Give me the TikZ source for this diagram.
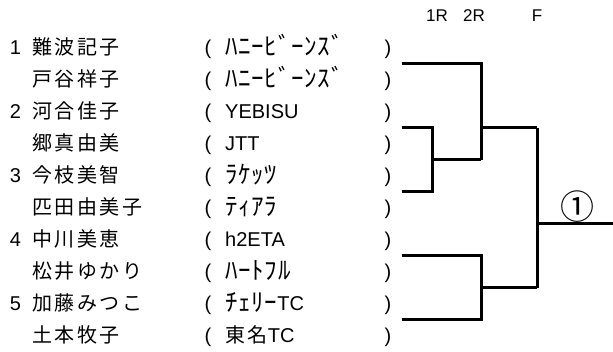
\documentclass[tikz,border=0pt]{standalone}
\usepackage{fontspec}
\setmainfont{Liberation Sans}
\newfontfamily\jp[LetterSpace=13]{Noto Sans CJK JP}
\newfontfamily\hwraw[LetterSpace=3]{Noto Sans CJK JP}
\newcommand{\hw}{\hwraw\fontsize{25}{27}\selectfont}
\newfontfamily\jpc{Noto Sans CJK JP}
\begin{document}
\begin{tikzpicture}[x=1pt,y=-1pt,
  lbl/.style={inner sep=0pt, font=\fontsize{20}{22}\selectfont},
  nm/.style={lbl, anchor=base west},
  num/.style={lbl, anchor=base},
  par/.style={lbl, anchor=base},
  hdr/.style={inner sep=0pt, anchor=base, font=\fontsize{17}{19}\selectfont},
  br/.style={line width=3pt, line join=miter, line cap=butt}]
\useasboundingbox (0,0) rectangle (613,352);
% header
\node[hdr] (h1) at (437,22) {1R};
\node[hdr] (h2) at (474,22) {2R};
\node[hdr] (h3) at (537,22) {F};
% seeds
\node[num] (d1) at (15.5,55) {1};
\node[num] (d2) at (15.5,119) {2};
\node[num] (d3) at (15.5,183) {3};
\node[num] (d4) at (15.5,247) {4};
\node[num] (d5) at (15.5,311) {5};
% names
\node[nm] (n1) at (32,55) {\jp 難波記子};
\node[nm] (n2) at (32,87) {\jp 戸谷祥子};
\node[nm] (n3) at (32,119) {\jp 河合佳子};
\node[nm] (n4) at (32,151) {\jp 郷真由美};
\node[nm] (n5) at (32,183) {\jp 今枝美智};
\node[nm] (n6) at (32,215) {\jp 匹田由美子};
\node[nm] (n7) at (32,247) {\jp 中川美恵};
\node[nm] (n8) at (32,279) {\jp 松井ゆかり};
\node[nm] (n9) at (32,311) {\jp 加藤みつこ};
\node[nm] (n10) at (32,343) {\jp 土本牧子};
% teams
\node[nm] (t1) at (225,56) {\hw ﾊﾆｰﾋﾞｰﾝｽﾞ};
\node[nm] (t2) at (225,88) {\hw ﾊﾆｰﾋﾞｰﾝｽﾞ};
\node[nm] (t3) at (225,119) {YEBISU};
\node[nm] (t4) at (225,151) {JTT};
\node[nm] (t5) at (225,184) {\hw ﾗｹｯﾂ};
\node[nm] (t6) at (225,216) {\hw ﾃｨｱﾗ};
\node[nm] (t7) at (225,247) {h2ETA};
\node[nm] (t8) at (225,280) {\hw ﾊｰﾄﾌﾙ};
\node[nm] (t9) at (225,311) {{\hw\raisebox{-1pt}{ﾁｪﾘｰ}}TC};
\node[nm] (t10) at (225,343) {{\jp 東名}TC};
% parentheses
\foreach \k in {1,...,10}{
  \node[par] (lp\k) at (208,{55+32*(\k-1)}) {(};
  \node[par] (rp\k) at (388,{55+32*(\k-1)}) {)};
}
% bracket coordinates
\coordinate (e1) at (402,64);
\coordinate (e2) at (402,128);
\coordinate (e3) at (402,192);
\coordinate (e4) at (402,256);
\coordinate (e5) at (402,320);
\coordinate (m1) at (432,160);
\coordinate (m2) at (481,128);
\coordinate (m3) at (481,288);
\coordinate (fin) at (537,224);
\coordinate (out) at (613,224);
% 1R
\draw[br] (e2) -| (m1) |- (e3);
\draw[br] (m1) -- (481,160);
% 2R top
\draw[br] (e1) -| (481,160);
\draw[br] (m2) -- (537,128);
% 2R bottom
\draw[br] (e4) -| (m3) |- (e5);
\draw[br] (m3) -- (537,288);
% final
\draw[br] (537,128) -- (537,288);
\draw[br] (fin) -- (out);
\node[inner sep=0pt, anchor=center, font=\fontsize{34}{36}\selectfont] (win) at (577,207) {\jpc ①};
\end{tikzpicture}
\end{document}
